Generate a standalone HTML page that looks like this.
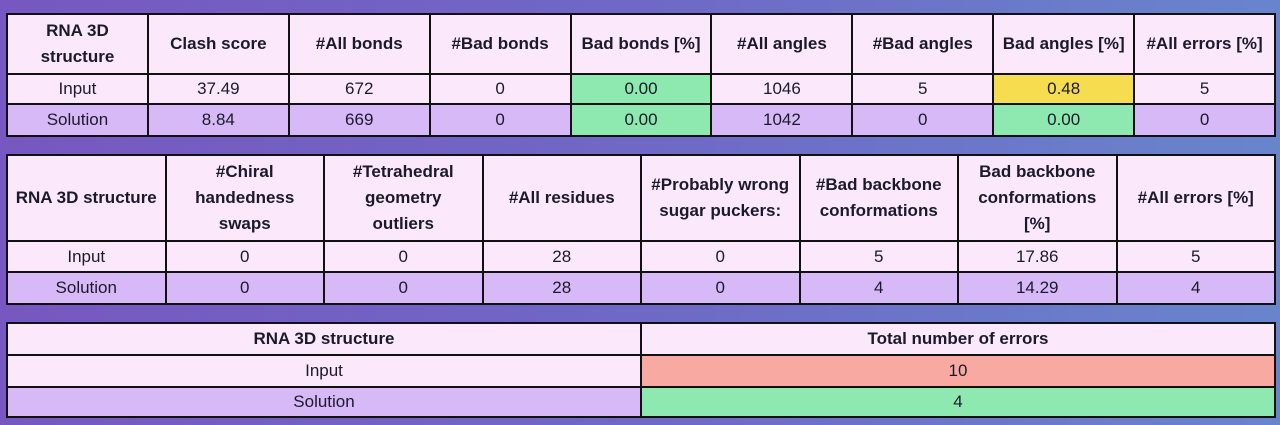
<!DOCTYPE html>
<html><head><meta charset="utf-8"><style>
html,body{margin:0;padding:0}
body{width:1280px;height:425px;overflow:hidden;position:relative;background:linear-gradient(90deg,#7758c0 0%,#6f68c6 50%,#6885cc 100%);font-family:"Liberation Sans",sans-serif;color:#1a1a2a}
table{position:absolute;border-collapse:collapse;table-layout:fixed;left:6px;width:1268px}
td{border:2px solid #111;text-align:center;font-size:17px;padding:0;line-height:26px;background:#fbe9fb;white-space:nowrap}
tr.h td{font-weight:bold}
tr.s td{background:#d7b9f7}
td.g{background:#8ee9b0!important}
td.y{background:#f6dc4f}
td.r{background:#f8aaa2}
</style></head><body>
<table style="top:13px;height:122px">
<colgroup><col span="9" style="width:140.9px"></colgroup>
<tr class="h" style="height:60px"><td>RNA 3D<br>structure</td><td>Clash score</td><td>#All bonds</td><td>#Bad bonds</td><td>Bad bonds [%]</td><td>#All angles</td><td>#Bad angles</td><td>Bad angles [%]</td><td>#All errors [%]</td></tr>
<tr style="height:30px"><td>Input</td><td>37.49</td><td>672</td><td>0</td><td class="g">0.00</td><td>1046</td><td>5</td><td class="y">0.48</td><td>5</td></tr>
<tr class="s" style="height:32px"><td>Solution</td><td>8.84</td><td>669</td><td>0</td><td class="g">0.00</td><td>1042</td><td>0</td><td class="g">0.00</td><td>0</td></tr>
</table>
<table style="top:154px;height:149px">
<colgroup><col span="8" style="width:158.5px"></colgroup>
<tr class="h" style="height:86px"><td>RNA 3D structure</td><td>#Chiral<br>handedness<br>swaps</td><td>#Tetrahedral<br>geometry<br>outliers</td><td>#All residues</td><td>#Probably wrong<br>sugar puckers:</td><td>#Bad backbone<br>conformations</td><td>Bad backbone<br>conformations<br>[%]</td><td>#All errors [%]</td></tr>
<tr style="height:31px"><td>Input</td><td>0</td><td>0</td><td>28</td><td>0</td><td>5</td><td>17.86</td><td>5</td></tr>
<tr class="s" style="height:32px"><td>Solution</td><td>0</td><td>0</td><td>28</td><td>0</td><td>4</td><td>14.29</td><td>4</td></tr>
</table>
<table style="top:322px;height:94px">
<colgroup><col style="width:634px"><col style="width:634px"></colgroup>
<tr class="h" style="height:32px"><td>RNA 3D structure</td><td>Total number of errors</td></tr>
<tr style="height:32px"><td>Input</td><td class="r">10</td></tr>
<tr class="s" style="height:30px"><td>Solution</td><td class="g">4</td></tr>
</table>
</body></html>
